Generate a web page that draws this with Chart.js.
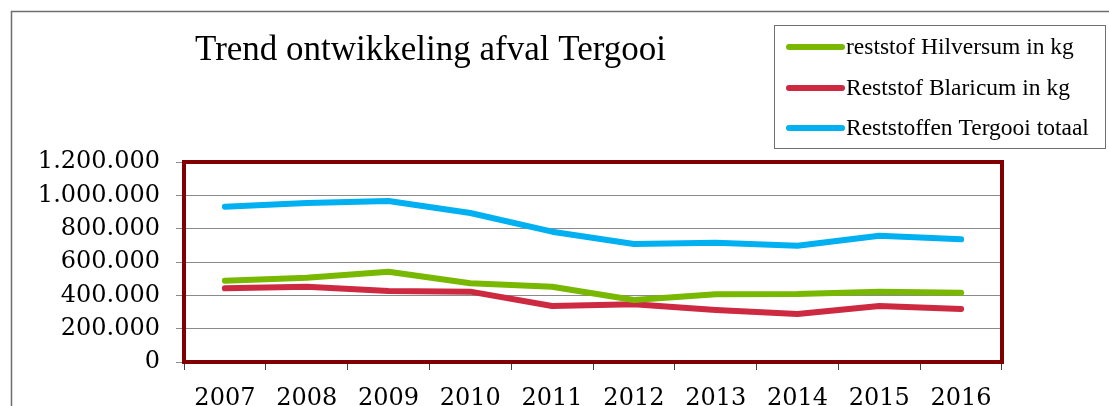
<!DOCTYPE html>
<html>
<head>
<meta charset="utf-8">
<script src="https://cdn.jsdelivr.net/npm/chart.js@4"></script>
<style>
  body { margin: 0; background: #fff; }
  canvas { display: block; }
</style>
</head>
<body>
<canvas id="afvalChart" width="1109" height="406"></canvas>
<script>
// chart data
const title = "Trend ontwikkeling afval Tergooi";
const years = ["2007", "2008", "2009", "2010", "2011", "2012", "2013", "2014", "2015", "2016"];
const hilversum = [488000, 506000, 542000, 472000, 452000, 372000, 406000, 408000, 422000, 416000];
const blaricum = [442000, 452000, 426000, 422000, 336000, 346000, 312000, 288000, 336000, 318000];
const tergooi = [932000, 954000, 966000, 894000, 782000, 708000, 716000, 698000, 758000, 736000];
const seriesNames = ["reststof Hilversum in kg", "Reststof Blaricum in kg", "Reststoffen Tergooi totaal"];
const yTicks = [0, 200000, 400000, 600000, 800000, 1000000, 1200000];

// number with dots as thousands separator
function dots(v) {
    return String(v).replace(/\B(?=(\d{3})+(?!\d))/g, ".");
}

// draws the outer border, title, legend box and the dark red frame
const decorations = {
    id: "decorations",
    beforeDraw(chart) {
        const ctx = chart.ctx;
        ctx.save();
        // outer chart border (left and top)
        ctx.strokeStyle = "#6e6e6e";
        ctx.lineWidth = 1.5;
        ctx.beginPath();
        ctx.moveTo(11.5, 406);
        ctx.lineTo(11.5, 11.5);
        ctx.lineTo(1109, 11.5);
        ctx.stroke();

        // title
        ctx.fillStyle = "#000";
        ctx.font = "35px 'Liberation Serif'";
        ctx.textBaseline = "alphabetic";
        ctx.fillText(title, 195, 60);

        // legend
        ctx.strokeStyle = "#707070";
        ctx.lineWidth = 1;
        ctx.strokeRect(774.5, 25.5, 331, 123);
        const rows = [47, 88, 128];
        ctx.font = "23.5px 'Liberation Serif'";
        ctx.textBaseline = "middle";
        chart.data.datasets.forEach((ds, i) => {
            ctx.strokeStyle = ds.borderColor;
            ctx.lineWidth = 6;
            ctx.lineCap = "round";
            ctx.beginPath();
            ctx.moveTo(789, rows[i]);
            ctx.lineTo(842, rows[i]);
            ctx.stroke();
            ctx.fillStyle = "#000";
            ctx.fillText(ds.label, 846, rows[i] + 1);
        });
        ctx.restore();
    },
    afterDraw(chart) {
        const a = chart.chartArea;
        const ctx = chart.ctx;
        ctx.save();
        ctx.strokeStyle = "#800000";
        ctx.lineWidth = 4;
        ctx.strokeRect(a.left, a.top, a.right - a.left, a.bottom - a.top);
        ctx.restore();
    }
};

const ctx = document.getElementById("afvalChart").getContext("2d");
const colors = ["#78b800", "#cd2a41", "#00b0f0"];
const values = [hilversum, blaricum, tergooi];

const afvalChart = new Chart(ctx, {
    type: "line",
    data: {
        labels: years,
        datasets: values.map((v, i) => ({
            label: seriesNames[i],
            data: v,
            borderColor: colors[i],
            backgroundColor: colors[i],
            borderWidth: 6,
            borderCapStyle: "round",
            borderJoinStyle: "round",
            pointRadius: 0,
            tension: 0,
            fill: false
        }))
    },
    options: {
        responsive: false,
        animation: false,
        layout: { padding: { left: 0, top: 162, right: 107, bottom: 0 } },
        plugins: {
            legend: { display: false },
            title: { display: false },
            tooltip: { enabled: false }
        },
        scales: {
            x: {
                offset: true,
                afterFit(scale) { scale.height = 44; },
                border: { display: true, color: "#444", width: 1 },
                grid: {
                    offset: true,
                    drawOnChartArea: false,
                    drawTicks: true,
                    tickLength: 8,
                    color: "#444"
                },
                ticks: {
                    color: "#000",
                    padding: 14,
                    maxRotation: 0,
                    font: { family: "'DejaVu Serif'", size: 24 }
                }
            },
            y: {
                min: 0,
                max: 1200000,
                afterFit(scale) { scale.width = 184; },
                afterBuildTicks(scale) {
                    scale.ticks = yTicks.map(v => ({ value: v }));
                },
                border: { display: false },
                grid: {
                    color: "#8a8a8a",
                    lineWidth: 1,
                    tickLength: 8
                },
                ticks: {
                    color: "#000",
                    padding: 16,
                    font: { family: "'DejaVu Serif'", size: 24 },
                    callback: v => dots(v)
                }
            }
        }
    },
    plugins: [decorations]
});
</script>
</body>
</html>
